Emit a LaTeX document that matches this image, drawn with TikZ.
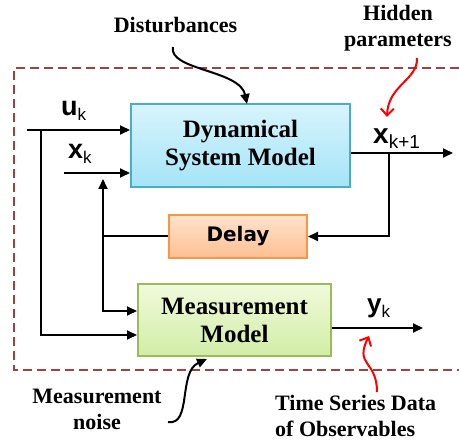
\documentclass[tikz,border=0pt]{standalone}
\usepackage{fontspec}
\setmainfont{Liberation Serif}
\newfontfamily\sansfnt{Liberation Sans}
\newfontfamily\delayfnt{DejaVu Sans}
\usetikzlibrary{arrows.meta, positioning}
\tikzset{>={Triangle[length=10pt, width=9pt]}}

\definecolor{sysTop}{HTML}{D8F4FC}
\definecolor{sysBot}{HTML}{A4E4F7}
\definecolor{sysEdge}{HTML}{4BACC6}
\definecolor{dlyTop}{HTML}{FFE2CC}
\definecolor{dlyBot}{HTML}{FDBF92}
\definecolor{dlyEdge}{HTML}{F79646}
\definecolor{msTop}{HTML}{F0FADC}
\definecolor{msBot}{HTML}{D2EDA6}
\definecolor{msEdge}{HTML}{9BBB59}
\definecolor{frameRed}{HTML}{A04040}

% state variable: bold letter with a plain subscript
\newcommand{\stvar}[4]{{\sansfnt\bfseries\fontsize{#3}{#3}\selectfont #1}\raisebox{-5pt}{\sansfnt\fontsize{#4}{#4}\selectfont #2}}

\begin{document}
\begin{tikzpicture}[
  x=1pt, y=-1pt,
  block/.style={rectangle, line width=2pt, shading=axis, align=center, inner sep=0pt},
  sysblock/.style={block, draw=sysEdge, top color=sysTop, bottom color=sysBot, minimum width=219pt, minimum height=83pt, font=\fontsize{25}{28}\selectfont\bfseries},
  dlyblock/.style={block, draw=dlyEdge, top color=dlyTop, bottom color=dlyBot, minimum width=138pt, minimum height=43pt, font=\delayfnt\fontsize{20}{22}\selectfont\bfseries},
  msblock/.style={block, draw=msEdge, top color=msTop, bottom color=msBot, minimum width=193pt, minimum height=72pt, font=\fontsize{25}{28}\selectfont\bfseries},
  flow/.style={->, line width=2pt, black},
  redflow/.style={-{Straight Barb[length=7pt, width=13pt]}, line width=2pt, red},
  note/.style={font=\fontsize{22}{26}\selectfont\bfseries, align=center, inner sep=0pt},
  statelbl/.style={anchor=base west, inner sep=0pt},
  frame/.style={line width=2.5pt, frameRed, dash pattern=on 9pt off 5pt}
]
\useasboundingbox (0,0) rectangle (459,441);

% Outer (open) dashed frame
\draw[frame] (459,68) -| (14,370) -- (459,370);

% Blocks
\node[sysblock] (dsm) at (240.5,145.5) {Dynamical\\System Model};
\node[dlyblock] (dly) at (238,236.5) {Delay};
\node[msblock] (msm) at (234.5,320) {Measurement\\Model};

% Signal points
\coordinate (uin) at (27,130);
\coordinate (ubr) at (41,130);
\coordinate (xin) at (64,173);
\coordinate (xfb) at (103,179);
\coordinate (xbr) at (389,153);
\coordinate (xend) at (453,153);
\coordinate (yend) at (423,328);

% Signal flow
\draw[flow] (uin) -- (uin -| dsm.west);
\draw[flow] (ubr) |- ([yshift=-15pt]msm.west);
\draw[flow] (xin) -- (xin -| dsm.west);
\draw[flow] (dly.west) -- (dly.west -| xfb) -- (xfb);
\draw[flow] (dly.west -| xfb) |- ([yshift=9pt]msm.west);
\draw[flow] (dsm.east |- xend) -- (xend);
\draw[flow] (xbr) |- (dly.east);
\draw[flow] (msm.east |- yend) -- (yend);

% State labels
\node[statelbl] (ulbl) at (61,116) {\stvar{u}{k}{27}{17}};
\node[statelbl] (xklbl) at (68,159) {\stvar{x}{k}{27}{17}};
\node[statelbl] (xnlbl) at (373,144) {\stvar{x}{k+1}{28}{19}};
\node[statelbl] (yklbl) at (367,313) {\stvar{y}{k}{26}{17}};

% Annotations
\node[note, anchor=base] (dist) at (175.5,33) {Disturbances};
\node[note] (hidden) at (398,28) {Hidden\\parameters};
\node[note] (noise) at (97,409) {Measurement\\noise};
\node[note, align=left, anchor=west] (tsd) at (275,416) {Time Series Data\\of Observables};

\coordinate (distsrc) at (173,47);
\coordinate (disttip) at (247,104);
\coordinate (hidsrc) at (417,58);
\coordinate (hidtip) at (387,117);
\coordinate (noisesrc) at (168,422);
\coordinate (noisetip) at (207,359);
\coordinate (tsdsrc) at (377,392);
\coordinate (tsdtip) at (369,336);

\draw[flow] (distsrc) .. controls (168,70) and (240,70) .. (disttip);
\draw[redflow] (hidsrc) .. controls (418,80) and (388,85) .. (hidtip);
\draw[flow] (noisesrc) .. controls (192,426) and (178,372) .. (noisetip);
\draw[redflow] (tsdsrc) .. controls (377,360) and (354,366) .. (tsdtip);

\end{tikzpicture}
\end{document}
